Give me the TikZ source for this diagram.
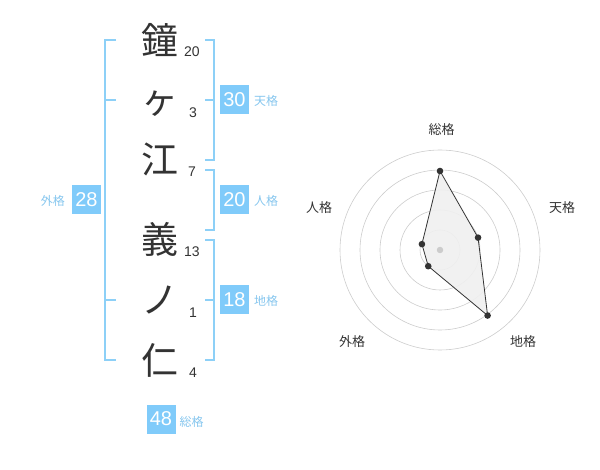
\documentclass[tikz,border=0pt]{standalone}
\usepackage{fontspec}
\setmainfont{Liberation Sans}
\newfontfamily\jp{Noto Sans CJK JP}
\usetikzlibrary{calc}
\definecolor{boxblue}{HTML}{80CBFA}
\definecolor{brblue}{HTML}{8DD0F7}
\definecolor{lblblue}{HTML}{86C6EE}
\definecolor{ink}{HTML}{333333}
\definecolor{ringgray}{HTML}{CCCCCC}
\definecolor{polyfill}{HTML}{F0F0F0}
\begin{document}
\begin{tikzpicture}[x=1pt,y=-1pt,
  kanji/.style={font=\jp\fontsize{37}{37}\selectfont, text=ink, inner sep=0, text height=32.5pt, text depth=4.5pt},
  strk/.style={font=\fontsize{14}{14}\selectfont, text=ink, inner sep=0},
  numbox/.style={fill=boxblue, text=white, minimum width=29, minimum height=29, inner sep=0, font=\fontsize{20}{20}\selectfont},
  lbl/.style={font=\jp\fontsize{12}{12}\selectfont, text=lblblue, inner sep=0},
  rlbl/.style={font=\jp\fontsize{13}{13}\selectfont, text=ink, inner sep=0},
  bracket/.style={draw=brblue, line width=1.6},
  ring/.style={draw=ringgray, line width=0.6},
  dot/.style={circle, fill=ink, inner sep=0, minimum size=6.6}]
\useasboundingbox (0,0) rectangle (600,470);
% name
\node[kanji] (k1) at (160,41) {鐘};
\node[kanji] (k2) at (160,100) {ヶ};
\node[kanji] (k3) at (160,160) {江};
\node[kanji] (k4) at (160,240) {義};
\node[kanji] (k5) at (160,300) {ノ};
\node[kanji] (k6) at (160,360) {仁};
% strokes
\node[strk] (s1) at (192,52) {20};
\node[strk] (s2) at (193,113) {3};
\node[strk] (s3) at (192,172) {7};
\node[strk] (s4) at (192,252) {13};
\node[strk] (s5) at (193,313) {1};
\node[strk] (s6) at (193,373) {4};
% outer bracket
\coordinate (ga) at (116,40); \coordinate (gb) at (105,40);
\coordinate (gc) at (105,360); \coordinate (gd) at (116,360);
\coordinate (ge) at (105,100); \coordinate (gf) at (116,100);
\coordinate (gg) at (105,300); \coordinate (gh) at (116,300);
\draw[bracket] (ga) -- (gb) -- (gc) -- (gd);
\draw[bracket] (ge) -- (gf);
\draw[bracket] (gg) -- (gh);
% ten bracket
\coordinate (ta) at (205,40); \coordinate (tb) at (214,40);
\coordinate (tc) at (214,160); \coordinate (td) at (205,160);
\coordinate (te) at (214,100); \coordinate (tf) at (205,100);
\draw[bracket] (ta) -- (tb) -- (tc) -- (td);
\draw[bracket] (te) -- (tf);
% jin bracket
\coordinate (ja) at (205,170); \coordinate (jb) at (214,170);
\coordinate (jc) at (214,230); \coordinate (jd) at (205,230);
\draw[bracket] (ja) -- (jb) -- (jc) -- (jd);
% chi bracket
\coordinate (ca) at (205,240); \coordinate (cb) at (214,240);
\coordinate (cc) at (214,360); \coordinate (cd) at (205,360);
\coordinate (ce) at (214,300); \coordinate (cf) at (205,300);
\draw[bracket] (ca) -- (cb) -- (cc) -- (cd);
\draw[bracket] (ce) -- (cf);
% boxes
\node[numbox] (b28) at (86.5,200) {28};
\node[lbl, anchor=east] (l28) at (65,201) {外格};
\node[numbox] (b30) at (234.5,100) {30};
\node[lbl, anchor=west] (l30) at (254,101) {天格};
\node[numbox] (b20) at (234.5,200) {20};
\node[lbl, anchor=west] (l20) at (254,201) {人格};
\node[numbox] (b18) at (234.5,300) {18};
\node[lbl, anchor=west] (l18) at (254,301) {地格};
\node[numbox] (b48) at (161,419) {48};
\node[lbl, anchor=west] (l48) at (179.5,422) {総格};
% radar
\coordinate (c) at (440,250);
\foreach \r in {20,40,60,80,100} \draw[ring] (c) circle[radius=\r];
\coordinate (p1) at ($(c)+(-90:79)$);
\coordinate (p2) at ($(c)+(-18:40)$);
\coordinate (p3) at ($(c)+(54:81)$);
\coordinate (p4) at ($(c)+(126:20)$);
\coordinate (p5) at ($(c)+(-162:19)$);
\fill[polyfill, opacity=0.9] (p1) -- (p2) -- (p3) -- (p4) -- (p5) -- cycle;
\draw[ink, line width=0.8] (p1) -- (p2) -- (p3) -- (p4) -- (p5) -- cycle;
\node[circle, fill=ringgray, inner sep=0, minimum size=6.5] (cd0) at (c) {};
\node[dot] (d1) at (p1) {};
\node[dot] (d2) at (p2) {};
\node[dot] (d3) at (p3) {};
\node[dot] (d4) at (p4) {};
\node[dot] (d5) at (p5) {};
\node[rlbl] (r1) at (441.5,130) {総格};
\node[rlbl] (r2) at (562,208) {天格};
\node[rlbl] (r3) at (523,342) {地格};
\node[rlbl] (r4) at (352,342) {外格};
\node[rlbl] (r5) at (319,208) {人格};
\end{tikzpicture}
\end{document}
